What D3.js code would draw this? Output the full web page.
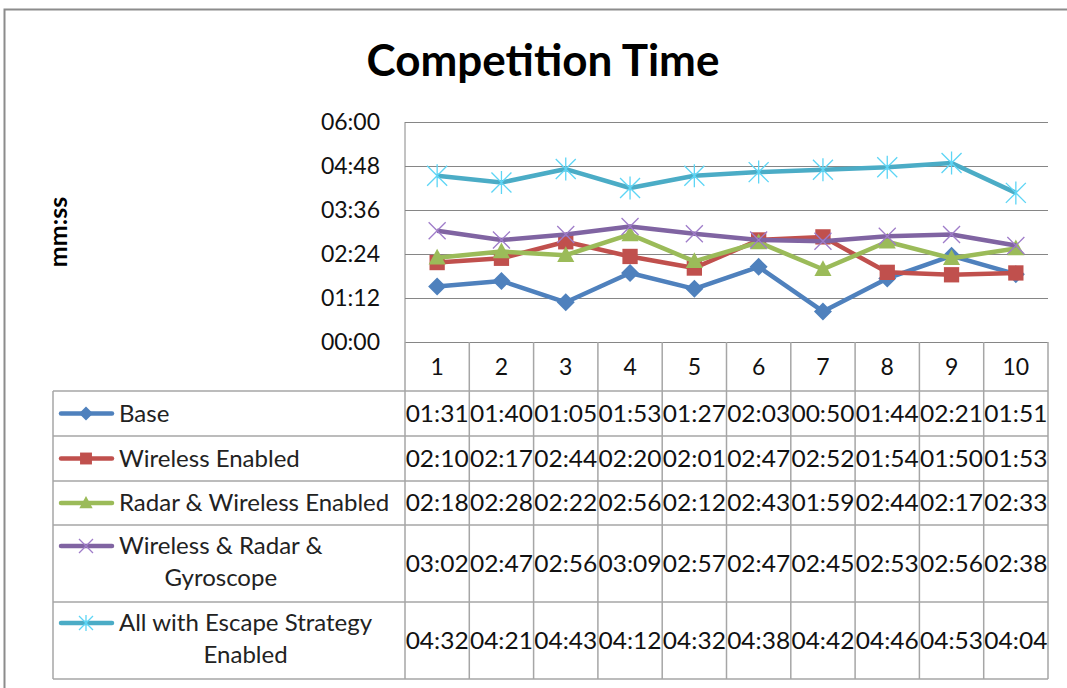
<!DOCTYPE html>
<html>
<head>
<meta charset="utf-8">
<script src="https://cdn.jsdelivr.net/npm/d3@7"></script>
<style>
  body { margin: 0; background: #fff; }
  svg { display: block; font-family: Lato, "Open Sans", sans-serif; }
</style>
</head>
<body>
<svg id="chart" width="1067" height="688"></svg>
<script>
const categories = ['1', '2', '3', '4', '5', '6', '7', '8', '9', '10']
const seriesNames = ['Base', 'Wireless Enabled', 'Radar & Wireless Enabled',
  'Wireless & Radar & Gyroscope', 'All with Escape Strategy Enabled']
const legendLines = [['Base'], ['Wireless Enabled'], ['Radar & Wireless Enabled'],
  ['Wireless & Radar &', 'Gyroscope'], ['All with Escape Strategy', 'Enabled']]
const base = ['01:31', '01:40', '01:05', '01:53', '01:27', '02:03', '00:50', '01:44', '02:21', '01:51']
const wireless = ['02:10', '02:17', '02:44', '02:20', '02:01', '02:47', '02:52', '01:54', '01:50', '01:53']
const radar = ['02:18', '02:28', '02:22', '02:56', '02:12', '02:43', '01:59', '02:44', '02:17', '02:33']
const gyro = ['03:02', '02:47', '02:56', '03:09', '02:57', '02:47', '02:45', '02:53', '02:56', '02:38']
const escape = ['04:32', '04:21', '04:43', '04:12', '04:32', '04:38', '04:42', '04:46', '04:53', '04:04']
const yTicks = ['00:00', '01:12', '02:24', '03:36', '04:48', '06:00']
const colors = ['#4f81bd', '#c0504d', '#9bbb59', '#8064a2', '#4bacc6']
const markers = ['diamond', 'square', 'triangle', 'x', 'star']

const toSec = s => { const [m, ss] = s.split(':').map(Number); return m * 60 + ss }
const values = [base, wireless, radar, gyro, escape]

const svg = d3.select('#chart')
const grid = '#a6a6a6'

// outer frame
svg.append('path')
  .attr('d', 'M4.5,688 V9.5 H1067')
  .attr('fill', 'none').attr('stroke', '#8c8c8c').attr('stroke-width', 2)

// title
svg.append('text')
  .attr('x', 543).attr('y', 76)
  .attr('text-anchor', 'middle')
  .attr('font-size', 44).attr('font-weight', 'bold')
  .text('Competition Time')

// y axis title
svg.append('text')
  .attr('transform', 'translate(67,232) rotate(-90)')
  .attr('text-anchor', 'middle')
  .attr('font-size', 25).attr('font-weight', 'bold')
  .text('mm:ss')

const plot = { left: 405, right: 1048, top: 122, bottom: 342 }

const x = d3.scaleBand()
  .domain(categories)
  .range([plot.left, plot.right])
const y = d3.scaleLinear()
  .domain([0, toSec(yTicks[yTicks.length - 1])])
  .range([plot.bottom, plot.top])

// gridlines + y labels
const yAxis = d3.axisLeft(y)
  .tickValues(yTicks.map(toSec))
  .tickFormat((d, i) => yTicks[i])
  .tickSize(-(plot.right - plot.left))
  .tickPadding(25)
svg.append('g')
  .attr('transform', `translate(${plot.left},0)`)
  .call(yAxis)
  .call(g => g.select('.domain').remove())
  .call(g => g.selectAll('.tick line').attr('stroke', '#868686'))
  .call(g => g.selectAll('.tick text')
    .attr('font-size', 23).attr('fill', '#111')
    .attr('font-family', 'Lato, sans-serif'))

svg.append('line')
  .attr('x1', plot.left).attr('x2', plot.left)
  .attr('y1', plot.top).attr('y2', plot.bottom)
  .attr('stroke', '#868686')

// marker shapes
function markerPath (type, s) {
  const p = d3.path()
  if (type === 'diamond') {
    p.moveTo(0, -s); p.lineTo(s, 0); p.lineTo(0, s); p.lineTo(-s, 0); p.closePath()
  } else if (type === 'square') {
    p.rect(-s * 0.85, -s * 0.85, s * 1.7, s * 1.7)
  } else if (type === 'triangle') {
    p.moveTo(0, -s); p.lineTo(s * 0.95, s * 0.75); p.lineTo(-s * 0.95, s * 0.75); p.closePath()
  } else if (type === 'x') {
    p.moveTo(-s, -s); p.lineTo(s, s); p.moveTo(s, -s); p.lineTo(-s, s)
  } else {
    p.moveTo(-s, -s); p.lineTo(s, s); p.moveTo(s, -s); p.lineTo(-s, s)
    p.moveTo(0, -s * 1.15); p.lineTo(0, s * 1.15)
  }
  return p.toString()
}
function drawMarker (g, type, color, s) {
  const stroked = type === 'x' || type === 'star'
  g.append('path')
    .attr('d', markerPath(type, s))
    .attr('fill', stroked ? 'none' : color)
    .attr('stroke', stroked ? d3.color(color).brighter(0.6) : 'none')
    .attr('stroke-width', 1.3)
}

// series lines
const line = d3.line()
  .x((d, i) => x(categories[i]) + x.bandwidth() / 2)
  .y(d => y(toSec(d)))

values.forEach((vals, si) => {
  const g = svg.append('g')
  g.append('path')
    .datum(vals)
    .attr('d', line)
    .attr('fill', 'none')
    .attr('stroke', colors[si])
    .attr('stroke-width', 4.5)
    .attr('stroke-linejoin', 'round')
  vals.forEach((v, i) => {
    const m = g.append('g')
      .attr('transform', `translate(${x(categories[i]) + x.bandwidth() / 2},${y(toSec(v))})`)
    drawMarker(m, markers[si], colors[si], markers[si] === 'star' ? 10 : markers[si] === 'x' ? 8.5 : 9)
  })
})

// data table
const rowEdges = [391, 436, 481, 525, 602, 679]
const tableLeft = 53
const headerTop = plot.bottom

const t = svg.append('g')
// header cells with category numbers
categories.forEach(c => {
  t.append('text')
    .attr('x', x(c) + x.bandwidth() / 2)
    .attr('y', (headerTop + rowEdges[0]) / 2 + 8)
    .attr('text-anchor', 'middle')
    .attr('font-size', 23).attr('fill', '#111')
    .text(c)
})
// horizontal rules
rowEdges.forEach(ry => {
  t.append('line')
    .attr('x1', tableLeft).attr('x2', plot.right)
    .attr('y1', ry).attr('y2', ry)
    .attr('stroke', grid).attr('stroke-width', 1.5)
})
// vertical rules
x.domain().concat(['end']).forEach((c, i) => {
  const vx = c === 'end' ? plot.right : x(c)
  t.append('line')
    .attr('x1', vx).attr('x2', vx)
    .attr('y1', headerTop).attr('y2', rowEdges[rowEdges.length - 1])
    .attr('stroke', grid).attr('stroke-width', 1.5)
})
t.append('line')
  .attr('x1', tableLeft).attr('x2', tableLeft)
  .attr('y1', rowEdges[0]).attr('y2', rowEdges[rowEdges.length - 1])
  .attr('stroke', grid).attr('stroke-width', 1.5)

values.forEach((vals, si) => {
  const top = rowEdges[si]
  const bot = rowEdges[si + 1]
  const mid = (top + bot) / 2
  const lines = legendLines[si]

  // legend key
  const key = t.append('g')
  const ky = lines.length > 1 ? top + 21 : mid
  key.append('line')
    .attr('x1', 61).attr('x2', 112)
    .attr('y1', ky).attr('y2', ky)
    .attr('stroke', colors[si]).attr('stroke-width', 4.5)
    .attr('stroke-linecap', 'round')
  const km = key.append('g').attr('transform', `translate(86,${ky})`)
  drawMarker(km, markers[si], colors[si], 7)

  // legend label
  const first = t.append('text')
    .attr('x', 119).attr('y', ky + 8)
    .attr('font-size', 24).attr('fill', '#222')
    .text(lines[0])
  if (lines.length > 1) {
    const w = first.node().getComputedTextLength()
    t.append('text')
      .attr('x', 119 + w / 2).attr('y', ky + 40)
      .attr('text-anchor', 'middle')
      .attr('font-size', 24).attr('fill', '#222')
      .text(lines[1])
  }

  // values
  vals.forEach((v, i) => {
    t.append('text')
      .attr('x', x(categories[i]) + x.bandwidth() / 2)
      .attr('y', mid + 8)
      .attr('text-anchor', 'middle')
      .attr('font-size', 23).attr('fill', '#111')
      .attr('textLength', 63).attr('lengthAdjust', 'spacingAndGlyphs')
      .text(v)
  })
})
</script>
</body>
</html>
